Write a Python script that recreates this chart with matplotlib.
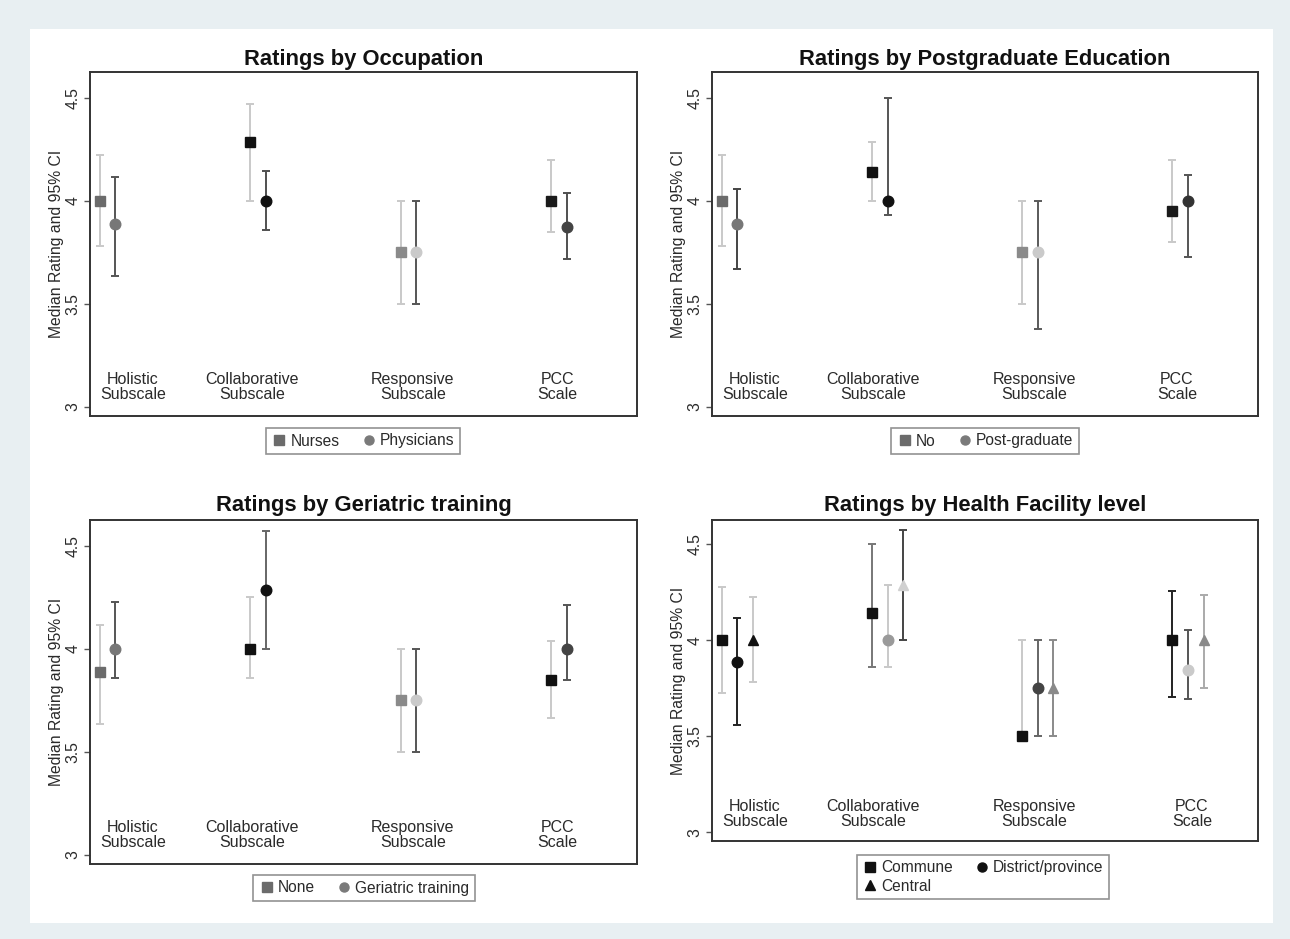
import matplotlib
matplotlib.use("Agg")
import matplotlib.pyplot as plt
from matplotlib.lines import Line2D
from matplotlib.patches import Rectangle

plt.rcParams['font.family'] = ['Liberation Sans', 'DejaVu Sans']

# ---------------- DATA ----------------
categories = ["Holistic\nSubscale", "Collaborative\nSubscale", "Responsive\nSubscale", "PCC\nScale"]
yticks = [3, 3.5, 4, 4.5]
ytick_labels = ["3", "3.5", "4", "4.5"]

# Panel 1: Occupation
occ_series = ["Nurses", "Physicians"]
occ_nurses_med = [4.00, 4.285, 3.75, 4.00]
occ_nurses_lo = [3.78, 4.00, 3.50, 3.85]
occ_nurses_hi = [4.223, 4.469, 4.00, 4.20]
occ_phys_med = [3.889, 4.00, 3.75, 3.874]
occ_phys_lo = [3.635, 3.86, 3.50, 3.716]
occ_phys_hi = [4.113, 4.145, 4.00, 4.039]

# Panel 2: Postgraduate education
pg_series = ["No", "Post-graduate"]
pg_no_med = [4.00, 4.14, 3.75, 3.95]
pg_no_lo = [3.78, 4.00, 3.50, 3.80]
pg_no_hi = [4.223, 4.287, 4.00, 4.20]
pg_post_med = [3.889, 4.00, 3.75, 4.00]
pg_post_lo = [3.668, 3.929, 3.377, 3.726]
pg_post_hi = [4.058, 4.50, 4.00, 4.127]

# Panel 3: Geriatric training
ger_series = ["None", "Geriatric training"]
ger_none_med = [3.887, 4.00, 3.75, 3.848]
ger_none_lo = [3.635, 3.858, 3.50, 3.664]
ger_none_hi = [4.113, 4.249, 4.00, 4.039]
ger_tr_med = [4.00, 4.284, 3.75, 4.00]
ger_tr_lo = [3.858, 4.00, 3.50, 3.848]
ger_tr_hi = [4.226, 4.572, 4.00, 4.213]

# Panel 4: Health facility level
fac_series = ["Commune", "District/province", "Central"]
fac_com_med = [4.00, 4.14, 3.50, 4.00]
fac_com_lo = [3.726, 3.86, 3.50, 3.704]
fac_com_hi = [4.276, 4.50, 4.00, 4.255]
fac_dis_med = [3.887, 4.00, 3.749, 3.847]
fac_dis_lo = [3.556, 3.86, 3.50, 3.692]
fac_dis_hi = [4.116, 4.286, 4.00, 4.054]
fac_cen_med = [4.00, 4.288, 3.75, 4.00]
fac_cen_lo = [3.78, 4.00, 3.50, 3.752]
fac_cen_hi = [4.225, 4.574, 4.00, 4.237]

titles = ["Ratings by Occupation", "Ratings by Postgraduate Education",
          "Ratings by Geriatric training", "Ratings by Health Facility level"]
ylabel = "Median Rating and 95% CI"

# ---------------- STYLE / LAYOUT ----------------
W, H = 1290, 939
LIGHT = "#c9c9c9"
TXT = "#2a2a2a"
panels = [
    dict(box=(90, 72, 637, 416), title_y=59, leg=(363, 441), ncol=2, ylab_x=57,
         label_x=[1.22, 2.01, 3.08, 4.04],
         series=[(occ_series[0], occ_nurses_med, occ_nurses_lo, occ_nurses_hi, 's',
                  ["#6b6b6b", "#111111", "#8a8a8a", "#1a1a1a"], [LIGHT] * 4),
                 (occ_series[1], occ_phys_med, occ_phys_lo, occ_phys_hi, 'o',
                  ["#777777", "#111111", "#cacaca", "#444444"], ["#555555", "#505050", "#555555", "#505050"])],
         leg_colors=["#6b6b6b", "#7a7a7a"]),
    dict(box=(712, 72, 1258, 416), title_y=59, leg=(985, 441), ncol=2, ylab_x=679,
         label_x=[1.22, 2.005, 3.08, 4.03],
         series=[(pg_series[0], pg_no_med, pg_no_lo, pg_no_hi, 's',
                  ["#6b6b6b", "#111111", "#8a8a8a", "#1a1a1a"], [LIGHT] * 4),
                 (pg_series[1], pg_post_med, pg_post_lo, pg_post_hi, 'o',
                  ["#777777", "#111111", "#cacaca", "#333333"], ["#444444", "#555555", "#5a5a5a", "#555555"])],
         leg_colors=["#6b6b6b", "#7a7a7a"]),
    dict(box=(90, 520, 637, 864), title_y=506, leg=(364, 888), ncol=2, ylab_x=57,
         label_x=[1.22, 2.01, 3.08, 4.04],
         series=[(ger_series[0], ger_none_med, ger_none_lo, ger_none_hi, 's',
                  ["#6b6b6b", "#111111", "#8a8a8a", "#111111"], [LIGHT] * 4),
                 (ger_series[1], ger_tr_med, ger_tr_lo, ger_tr_hi, 'o',
                  ["#777777", "#111111", "#cacaca", "#444444"], ["#555555", "#666666", "#555555", "#555555"])],
         leg_colors=["#6b6b6b", "#7a7a7a"]),
    dict(box=(712, 520, 1258, 841), title_y=506, leg=(983, 877), ncol=2, ylab_x=679,
         label_x=[1.22, 2.005, 3.08, 4.13],
         series=[(fac_series[0], fac_com_med, fac_com_lo, fac_com_hi, 's',
                  ["#111111"] * 4, [LIGHT, "#777777", LIGHT, "#222222"]),
                 (fac_series[1], fac_dis_med, fac_dis_lo, fac_dis_hi, 'o',
                  ["#111111", "#9a9a9a", "#444444", "#cacaca"], ["#222222", LIGHT, "#666666", "#555555"]),
                 (fac_series[2], fac_cen_med, fac_cen_lo, fac_cen_hi, '^',
                  ["#111111", "#d0d0d0", "#8a8a8a", "#8a8a8a"], [LIGHT, "#444444", "#8a8a8a", "#aaaaaa"])],
         leg_colors=["#111111", "#111111", "#111111"]),
]
OFFSET = 0.104
MSIZE = {'s': 7.2, 'o': 7.6, '^': 7.6}

fig = plt.figure(figsize=(W / 100, H / 100), dpi=100, facecolor="#e8eff2")
fig.patches.append(Rectangle((30 / W, 1 - 923 / H), (1273 - 30) / W, (923 - 29) / H,
                             transform=fig.transFigure, facecolor="white", edgecolor="none", zorder=-10))

def fx(x):
    return x / W

def fy(y):
    return 1 - y / H

for p, title in zip(panels, titles):
    x0, y0, x1, y1 = p['box']
    ax = fig.add_axes([fx(x0), fy(y1), (x1 - x0) / W, (y1 - y0) / H])
    ax.set_zorder(5)
    ax.set_xlim(0.935, 4.57)
    ax.set_ylim(2.955, 4.625)
    for sp in ax.spines.values():
        sp.set_linewidth(1.4)
        sp.set_color("#333333")
    ax.set_xticks([])
    ax.set_yticks(yticks)
    ax.set_yticklabels(ytick_labels, rotation=90, va='center', fontsize=11.3, color=TXT)
    ax.tick_params(axis='y', length=4, width=1, color="#555555", pad=3)

    handles = []
    for si, (name, med, lo, hi, mk, mcols, wcols) in enumerate(p['series']):
        for gi in range(len(categories)):
            x = gi + 1 + si * OFFSET
            ax.errorbar([x], [med[gi]], yerr=[[med[gi] - lo[gi]], [hi[gi] - med[gi]]],
                        fmt='none', ecolor=wcols[gi], elinewidth=1.4, capsize=2.6, capthick=1.4, zorder=2)
            ax.plot([x], [med[gi]], marker=mk, markersize=MSIZE[mk], color=mcols[gi],
                    markeredgecolor=mcols[gi], linestyle='none', zorder=3)
        handles.append(Line2D([], [], marker=mk, markersize=6.5, color=p['leg_colors'][si],
                              linestyle='none', label=name))

    for lx, cat in zip(p['label_x'], categories):
        ax.text(lx, 3.097, cat, ha='center', va='center', fontsize=11.5, color=TXT,
                linespacing=1.0)

    fig.text(fx((x0 + x1) / 2), fy(p['title_y']), title, ha='center', va='center',
             fontsize=15.8, fontweight='bold', color="#111111")
    fig.text(fx(p['ylab_x']), fy((y0 + y1) / 2), ylabel, rotation=90, ha='center', va='center',
             fontsize=11.3, color=TXT)

    if len(handles) == 3:
        handles = [handles[0], handles[2], handles[1]]
    leg = ax.legend(handles=handles, loc='center', bbox_to_anchor=(fx(p['leg'][0]), fy(p['leg'][1])),
                    bbox_transform=fig.transFigure, ncol=p['ncol'], frameon=True, fancybox=False,
                    edgecolor="#777777", fontsize=11.2, handletextpad=0.2, columnspacing=1.4,
                    handlelength=1.0, borderpad=0.35, labelspacing=0.25, borderaxespad=0)
    leg.get_frame().set_linewidth(1.2)
    for t in leg.get_texts():
        t.set_color(TXT)

fig.savefig("out.png", dpi=100, facecolor=fig.get_facecolor())
